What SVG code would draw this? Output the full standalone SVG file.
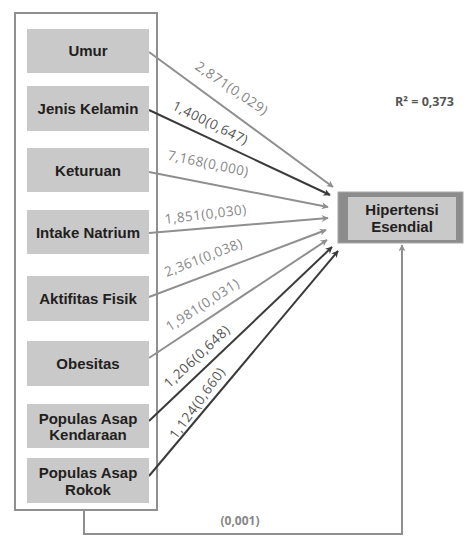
<svg xmlns="http://www.w3.org/2000/svg" width="467" height="536" viewBox="0 0 467 536">
<style>
.node{fill:#c9c9c9}
.nt{font-family:"Liberation Sans",Arial,sans-serif;font-weight:bold;font-size:15px;fill:#231f20;text-anchor:middle}
.g{stroke:#8f8f8f;stroke-width:2;fill:none}
.d{stroke:#3a3a3a;stroke-width:2;fill:none}
.lbl{font-family:"Open Sans","Liberation Sans",sans-serif;font-size:13.5px;text-anchor:middle}
.lg{fill:#878787}
.ld{fill:#555}
</style>
<defs>
<marker id="ag" viewBox="0 0 10 10" refX="9" refY="5" markerWidth="7" markerHeight="7" orient="auto" markerUnits="userSpaceOnUse">
<path d="M0,0 L10,5 L0,10 L3,5 Z" fill="#8f8f8f"/>
</marker>
<marker id="ad" viewBox="0 0 10 10" refX="9" refY="5" markerWidth="7" markerHeight="7" orient="auto" markerUnits="userSpaceOnUse">
<path d="M0,0 L10,5 L0,10 L3,5 Z" fill="#3a3a3a"/>
</marker>
</defs>
<rect width="467" height="536" fill="#fff"/>
<g id="group-box">
<rect x="15" y="13" width="142" height="497" fill="none" stroke="#8f8f8f" stroke-width="2"/>
</g>
<g id="connectors">
<line class="g" x1="149" y1="52" x2="333" y2="187" marker-end="url(#ag)"/>
<line class="d" x1="149" y1="110" x2="330" y2="195" marker-end="url(#ad)"/>
<line class="g" x1="149" y1="172" x2="328" y2="207" marker-end="url(#ag)"/>
<line class="g" x1="149" y1="233" x2="328" y2="218" marker-end="url(#ag)"/>
<line class="g" x1="149" y1="297" x2="326" y2="230" marker-end="url(#ag)"/>
<line class="g" x1="149" y1="358" x2="327" y2="240" marker-end="url(#ag)"/>
<line class="d" x1="149" y1="421" x2="332" y2="247" marker-end="url(#ad)"/>
<line class="d" x1="149" y1="476" x2="338" y2="251" marker-end="url(#ad)"/>
<polyline class="g" points="84,510 84,534 402,534 402,245" marker-end="url(#ag)"/>
<text class="lbl lg" transform="translate(229,92) rotate(34)" textLength="84">2,871(0,029)</text>
<text class="lbl ld" transform="translate(208,127) rotate(26)" textLength="82">1,400(0,647)</text>
<text class="lbl lg" transform="translate(207,168) rotate(12)" textLength="82">7,168(0,000)</text>
<text class="lbl lg" transform="translate(206,219) rotate(-7)" textLength="82">1,851(0,030)</text>
<text class="lbl lg" transform="translate(205,262) rotate(-21.5)" textLength="82">2,361(0,038)</text>
<text class="lbl lg" transform="translate(205,309) rotate(-33)" textLength="84">1,981(0,031)</text>
<text class="lbl ld" transform="translate(200,360) rotate(-43)" textLength="84">1,206(0,648)</text>
<text class="lbl ld" transform="translate(201,406) rotate(-54)" textLength="84">1,124(0,660)</text>
<text x="240" y="525" class="lbl lg" style="font-size:12px;font-weight:bold">(0,001)</text>
</g>
<g id="umur"><rect class="node" x="27" y="29" width="122" height="44"/><text class="nt" x="88" y="56">Umur</text></g>
<g id="jenis-kelamin"><rect class="node" x="27" y="86" width="122" height="45"/><text class="nt" x="88" y="114">Jenis Kelamin</text></g>
<g id="keturuan"><rect class="node" x="27" y="148" width="122" height="44"/><text class="nt" x="88" y="176">Keturuan</text></g>
<g id="intake-natrium"><rect class="node" x="27" y="210" width="122" height="44"/><text class="nt" x="88" y="238">Intake Natrium</text></g>
<g id="aktifitas-fisik"><rect class="node" x="27" y="276" width="122" height="45"/><text class="nt" x="88" y="304">Aktifitas Fisik</text></g>
<g id="obesitas"><rect class="node" x="27" y="341" width="122" height="45"/><text class="nt" x="88" y="369">Obesitas</text></g>
<g id="populas-asap-kendaraan"><rect class="node" x="27" y="404" width="122" height="44"/><text class="nt" x="88" y="424">Populas Asap</text><text class="nt" x="88" y="440">Kendaraan</text></g>
<g id="populas-asap-rokok"><rect class="node" x="27" y="458" width="122" height="45"/><text class="nt" x="88" y="478">Populas Asap</text><text class="nt" x="88" y="495">Rokok</text></g>
<g id="hipertensi-esendial">
<rect x="338" y="192" width="125" height="51" fill="#8c8c8c" stroke="#a8a8a8" stroke-width="1"/>
<rect x="348" y="197" width="108" height="43" fill="#c9c9c9"/>
<text class="nt" x="402" y="215">Hipertensi</text>
<text class="nt" x="402" y="232">Esendial</text>
</g>
<g id="r-squared">
<text x="395" y="106" style="font-family:'Open Sans','Liberation Sans',sans-serif;font-weight:bold;font-size:12.5px;fill:#555">R² =  0,373</text>
</g>
</svg>
